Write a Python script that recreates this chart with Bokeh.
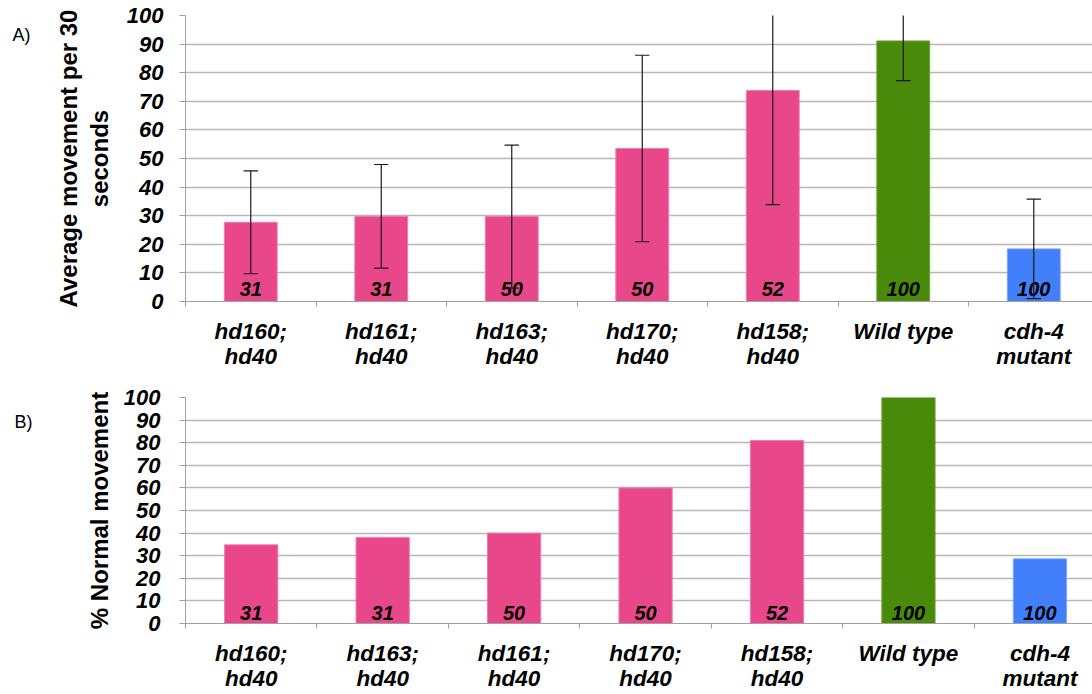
from bokeh.plotting import figure
from bokeh.layouts import column
from bokeh.models import FixedTicker, LinearAxis, Range1d
from bokeh.core.properties import value
from bokeh.embed import file_html
from bokeh.resources import INLINE

# ---- Panel A: average movement per 30 s (mean +/- error) ----
genotypes_a = ["hd160;\nhd40", "hd161;\nhd40", "hd163;\nhd40", "hd170;\nhd40",
               "hd158;\nhd40", "Wild type", "cdh-4\nmutant"]
movement_mean = [27.7, 29.8, 29.7, 53.5, 73.8, 91.1, 18.4]
movement_err = [18.0, 18.1, 25.0, 32.6, 39.9, 13.9, 17.4]
n_worms_a = ["31", "31", "50", "50", "52", "100", "100"]

# ---- Panel B: percentage of normal movement ----
genotypes_b = ["hd160;\nhd40", "hd163;\nhd40", "hd161;\nhd40", "hd170;\nhd40",
               "hd158;\nhd40", "Wild type", "cdh-4\nmutant"]
normal_pct = [34.8, 38.1, 40.0, 60.0, 81.0, 100.0, 28.6]
n_worms_b = ["31", "31", "50", "50", "52", "100", "100"]

y_ticks = list(range(0, 101, 10))

PINK = "#E8488A"
GREEN = "#4A8A0A"
BLUE = "#4180FA"
bar_colors = [PINK, PINK, PINK, PINK, PINK, GREEN, BLUE]
edge_colors = ["#F07AAE"] * 5 + ["#6FA23A", "#7AA6FB"]

GRID = "#B8B8B8"
FONT = "Liberation Sans"


def make_panel(labels, heights, counts, height, top, bottom, x_end,
               y_title, tick_standoff, title_standoff, count_offset,
               tag, tag_y, tag_standoff):
    p = figure(width=1092, height=height, output_backend="svg",
               toolbar_location=None, x_range=Range1d(0, x_end),
               y_range=Range1d(0, 100), min_border_left=185,
               min_border_right=0, min_border_top=top,
               min_border_bottom=bottom)
    p.outline_line_color = None
    p.background_fill_color = "white"
    p.border_fill_color = "white"

    centers = [i + 0.5 for i in range(len(labels))]

    # x axis: labels at the category centres, tick marks on the boundaries
    p.xaxis.ticker = FixedTicker(ticks=centers,
                                 minor_ticks=list(range(len(labels) + 1)))
    p.xaxis.major_label_overrides = {c: lab for c, lab in zip(centers, labels)}
    p.xaxis.major_tick_out = 0
    p.xaxis.major_tick_in = 0
    p.xaxis.minor_tick_out = 5
    p.xaxis.minor_tick_in = 0
    p.xaxis.minor_tick_line_color = "#A0A0A0"
    p.xaxis.axis_line_color = "#A0A0A0"
    p.xaxis.major_label_text_font = FONT
    p.xaxis.major_label_text_font_size = "22.5px"
    p.xaxis.major_label_text_font_style = "bold italic"
    p.xaxis.major_label_text_color = "black"
    p.xaxis.major_label_text_line_height = 1.0
    p.xaxis.major_label_standoff = 12

    # y axis
    p.yaxis.ticker = FixedTicker(ticks=y_ticks, minor_ticks=[])
    p.yaxis.major_tick_out = 6
    p.yaxis.major_tick_in = 0
    p.yaxis.major_tick_line_color = "#A0A0A0"
    p.yaxis.axis_line_color = "#A0A0A0"
    p.yaxis.major_label_text_font = FONT
    p.yaxis.major_label_text_font_size = "22px"
    p.yaxis.major_label_text_font_style = "bold italic"
    p.yaxis.major_label_text_color = "black"
    p.yaxis.major_label_standoff = tick_standoff
    p.yaxis.axis_label = y_title
    p.yaxis.axis_label_text_font = FONT
    p.yaxis.axis_label_text_font_size = "24px"
    p.yaxis.axis_label_text_font_style = "bold"
    p.yaxis.axis_label_text_color = "black"
    p.yaxis.axis_label_text_line_height = 1.15
    p.yaxis.axis_label_standoff = title_standoff

    # panel tag ("A)" / "B)") placed in the far left margin
    tag_axis = LinearAxis(ticker=FixedTicker(ticks=[tag_y], minor_ticks=[]),
                          major_label_overrides={tag_y: tag},
                          axis_line_color=None, major_tick_line_color=None,
                          major_tick_out=0, major_tick_in=0,
                          major_label_standoff=tag_standoff,
                          major_label_text_font=FONT,
                          major_label_text_font_size="18px",
                          major_label_text_color="black")
    p.add_layout(tag_axis, "left")

    p.xgrid.grid_line_color = None
    p.ygrid.ticker = FixedTicker(ticks=y_ticks)
    p.ygrid.grid_line_color = GRID
    p.ygrid.grid_line_width = 1.5

    p.vbar(x=centers, top=heights, width=0.405, bottom=0,
           fill_color=bar_colors, line_color=edge_colors, line_width=1)

    p.text(x=centers, y=[0] * len(centers), text=counts,
           text_font=value(FONT), text_font_size="20px",
           text_font_style="bold italic", text_color="black",
           text_align="center", text_baseline="alphabetic",
           y_offset=count_offset)
    return p, centers


top_fig, xa = make_panel(genotypes_a, movement_mean, n_worms_a, 372, 15, 71,
                         6.95, "Average movement per 30\nseconds", 16, 11, -13,
                         "A)", 93.2, 21)

lo = [m - e for m, e in zip(movement_mean, movement_err)]
hi = [m + e for m, e in zip(movement_mean, movement_err)]
cap = 0.055
top_fig.segment(x0=xa, y0=lo, x1=xa, y1=hi, line_color="#1A1A1A", line_width=1.2)
top_fig.segment(x0=[x - cap for x in xa], y0=hi, x1=[x + cap for x in xa], y1=hi,
                line_color="#1A1A1A", line_width=1.2)
top_fig.segment(x0=[x - cap for x in xa], y0=lo, x1=[x + cap for x in xa], y1=lo,
                line_color="#1A1A1A", line_width=1.2)

bot_fig, xb = make_panel(genotypes_b, normal_pct, n_worms_b, 322, 25, 71,
                         6.90, "% Normal movement", 19, 8, -11,
                         "B)", 89.0, 50)

layout = column(top_fig, bot_fig, spacing=0)
open("out.html", "w").write(file_html(layout, INLINE))
